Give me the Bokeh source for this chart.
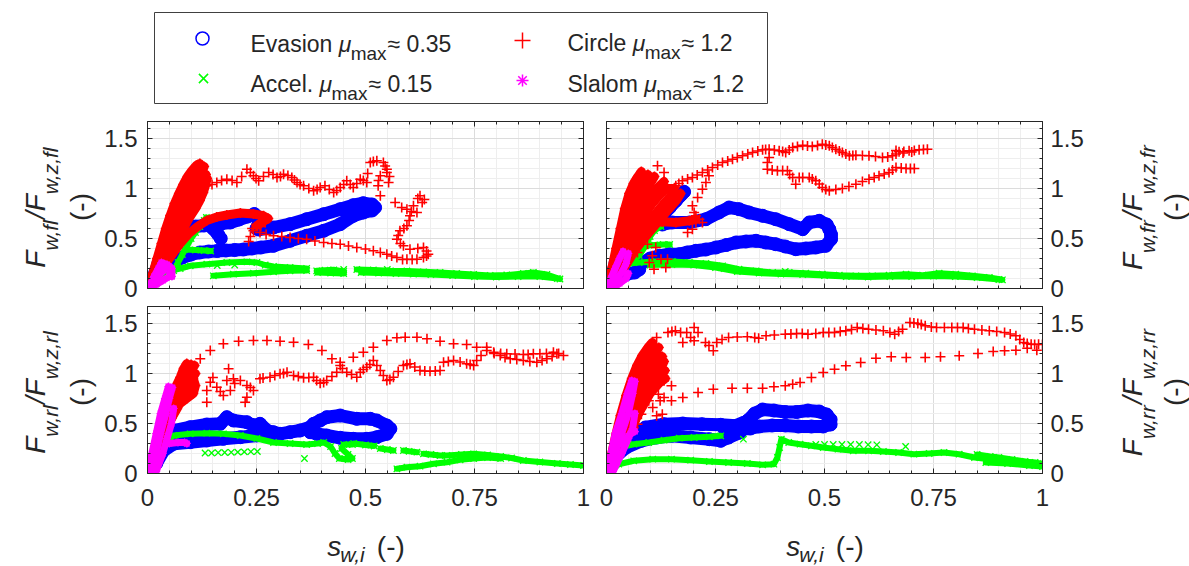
import math
from bokeh.plotting import figure
from bokeh.layouts import row, column
from bokeh.models import Range1d, FixedTicker, LinearAxis, Grid, CustomJSTickFormatter
from bokeh.core.properties import value
from bokeh.embed import file_html
from bokeh.resources import INLINE

# ---------------------------------------------------------------- data
x_major_ticks = [0, 0.25, 0.5, 0.75, 1]
x_minor_ticks = [0.05, 0.1, 0.15, 0.2, 0.3, 0.35, 0.4, 0.45, 0.55, 0.6, 0.65, 0.7, 0.8, 0.85, 0.9, 0.95]
y_major_ticks = [0, 0.5, 1, 1.5]
y_minor_ticks = [0.1, 0.2, 0.3, 0.4, 0.6, 0.7, 0.8, 0.9, 1.1, 1.2, 1.3, 1.4, 1.6]
series_names = ["Evasion", "Accel.", "Circle", "Slalom"]
series_mu = ["0.35", "0.15", "1.2", "1.2"]
wheels = ["fl", "fr", "rl", "rr"]

# ---- front left
tl_evasion_bands = [
    [(0.005, 0.02), (0.015, 0.08), (0.03, 0.15), (0.045, 0.22), (0.06, 0.27), (0.08, 0.31), (0.1, 0.34), (0.12, 0.36),
     (0.14, 0.37), (0.16, 0.375), (0.18, 0.38), (0.2, 0.385), (0.22, 0.39), (0.24, 0.40), (0.26, 0.41), (0.289, 0.427),
     (0.327, 0.477), (0.365, 0.527), (0.404, 0.577), (0.442, 0.643), (0.472, 0.727), (0.495, 0.76), (0.515, 0.78),
     (0.522, 0.81), (0.515, 0.84), (0.495, 0.853), (0.472, 0.833), (0.442, 0.793), (0.404, 0.743), (0.365, 0.693),
     (0.327, 0.643), (0.289, 0.61), (0.255, 0.59)],
    [(0.01, 0.08), (0.025, 0.25), (0.04, 0.4), (0.055, 0.5), (0.07, 0.56), (0.09, 0.6), (0.11, 0.62), (0.13, 0.63),
     (0.15, 0.64), (0.17, 0.65), (0.19, 0.66), (0.21, 0.69), (0.23, 0.72), (0.245, 0.745), (0.255, 0.71), (0.255, 0.65),
     (0.25, 0.6)],
    [(0.15, 0.6), (0.162, 0.54), (0.168, 0.5)],
]
tl_evasion_pts = []
tl_accel_bands = [
    [(0.02, 0.05), (0.04, 0.12), (0.06, 0.18), (0.07, 0.26), (0.08, 0.34), (0.09, 0.42), (0.1, 0.5), (0.11, 0.56),
     (0.12, 0.62), (0.13, 0.68), (0.135, 0.71)],
    [(0.085, 0.39), (0.11, 0.385), (0.13, 0.38), (0.145, 0.375)],
    [(0.03, 0.15), (0.052, 0.177), (0.075, 0.2), (0.098, 0.227), (0.136, 0.243), (0.182, 0.26), (0.228, 0.267),
     (0.251, 0.26), (0.27, 0.235), (0.289, 0.22), (0.327, 0.21), (0.365, 0.2)],
    [(0.151, 0.127), (0.197, 0.143), (0.243, 0.153), (0.289, 0.167), (0.327, 0.177), (0.365, 0.18)],
    [(0.388, 0.177), (0.407, 0.183), (0.427, 0.187), (0.45, 0.17)],
    [(0.48, 0.19), (0.518, 0.185), (0.557, 0.177), (0.595, 0.175), (0.633, 0.167), (0.671, 0.16), (0.709, 0.15),
     (0.748, 0.14), (0.786, 0.13), (0.824, 0.135), (0.862, 0.15), (0.885, 0.16), (0.916, 0.14), (0.946, 0.095)],
    [(0.39, 0.16), (0.42, 0.155), (0.45, 0.15)],
    [(0.49, 0.16), (0.53, 0.155), (0.57, 0.15), (0.61, 0.145), (0.65, 0.14), (0.7, 0.13), (0.75, 0.12), (0.8, 0.115),
     (0.85, 0.12), (0.9, 0.12), (0.94, 0.1)],
]
tl_accel_pts = [(0.16, 0.23), (0.2, 0.235), (0.45, 0.19), (0.55, 0.19)]
tl_circle_bands = [
    [(0.003, 0.03), (0.012, 0.15), (0.022, 0.3), (0.032, 0.45), (0.042, 0.6), (0.052, 0.73), (0.062, 0.85),
     (0.072, 0.95), (0.082, 1.04), (0.092, 1.12), (0.102, 1.18), (0.112, 1.23), (0.12, 1.25)],
    [(0.009, 0.06), (0.02, 0.2), (0.032, 0.35), (0.045, 0.5), (0.057, 0.64), (0.07, 0.78), (0.082, 0.9),
     (0.093, 1.0), (0.104, 1.08), (0.114, 1.15), (0.124, 1.2)],
    [(0.015, 0.1), (0.028, 0.25), (0.042, 0.4), (0.056, 0.55), (0.07, 0.7), (0.085, 0.83), (0.097, 0.94),
     (0.108, 1.03), (0.118, 1.1), (0.126, 1.17), (0.13, 1.22)],
    [(0.022, 0.14), (0.038, 0.29), (0.054, 0.43), (0.068, 0.56), (0.083, 0.68), (0.098, 0.8), (0.11, 0.9),
     (0.12, 0.99), (0.128, 1.06), (0.134, 1.14)],
    [(0.03, 0.18), (0.048, 0.33), (0.065, 0.46), (0.08, 0.58), (0.095, 0.7), (0.11, 0.8), (0.12, 0.88), (0.128, 0.96),
     (0.133, 1.03), (0.137, 1.1)],
    [(0.035, 0.2), (0.055, 0.33), (0.075, 0.45), (0.095, 0.55), (0.115, 0.62), (0.136, 0.68), (0.159, 0.715),
     (0.182, 0.735), (0.213, 0.755), (0.243, 0.745), (0.266, 0.727), (0.277, 0.7), (0.262, 0.66), (0.251, 0.63)],
]
tl_circle_pts = [
    (0.136, 1.027), (0.148, 1.04), (0.159, 1.06), (0.17, 1.08), (0.182, 1.093), (0.194, 1.08), (0.205, 1.06),
    (0.216, 1.12), (0.228, 1.193), (0.236, 1.16), (0.243, 1.127), (0.249, 1.1), (0.255, 1.077), (0.266, 1.12),
    (0.278, 1.16), (0.288, 1.14), (0.297, 1.11), (0.305, 1.12), (0.312, 1.143), (0.322, 1.13), (0.331, 1.11),
    (0.337, 1.085), (0.343, 1.06), (0.35, 1.04), (0.358, 1.027), (0.37, 1.0), (0.381, 0.977), (0.389, 0.99),
    (0.396, 1.01), (0.407, 1.027), (0.417, 0.99), (0.427, 0.96), (0.434, 0.98), (0.442, 1.01), (0.45, 1.04),
    (0.457, 1.077), (0.465, 1.04), (0.472, 1.01), (0.48, 1.05), (0.488, 1.093), (0.495, 1.08), (0.503, 1.06),
    (0.505, 1.15), (0.511, 1.26), (0.518, 1.27), (0.526, 1.277), (0.541, 1.26), (0.545, 1.225), (0.549, 1.193),
    (0.534, 1.127), (0.53, 1.08), (0.529, 1.027), (0.534, 0.927), (0.549, 1.16), (0.555, 1.12), (0.553, 1.06),
    (0.568, 0.86), (0.583, 0.81), (0.595, 0.793), (0.618, 0.76), (0.625, 0.927), (0.62, 0.9), (0.635, 0.89),
    (0.63, 0.86), (0.61, 0.827), (0.605, 0.77), (0.602, 0.727), (0.6, 0.68), (0.595, 0.627), (0.588, 0.6),
    (0.579, 0.577), (0.575, 0.53), (0.572, 0.493), (0.58, 0.45), (0.587, 0.427), (0.602, 0.393), (0.62, 0.40),
    (0.633, 0.41), (0.64, 0.375), (0.644, 0.343), (0.64, 0.325), (0.633, 0.31), (0.618, 0.293), (0.607, 0.29),
    (0.595, 0.293), (0.585, 0.29), (0.572, 0.31), (0.56, 0.325), (0.549, 0.343), (0.534, 0.36), (0.518, 0.377),
    (0.5, 0.395), (0.48, 0.41), (0.461, 0.425), (0.442, 0.443), (0.423, 0.45), (0.404, 0.46), (0.384, 0.475),
    (0.365, 0.493), (0.346, 0.5), (0.327, 0.51), (0.308, 0.52), (0.289, 0.527), (0.272, 0.54), (0.258, 0.56),
    (0.243, 0.577), (0.232, 0.47), (0.236, 0.52), (0.24, 0.6), (0.26, 0.62), (0.27, 0.66)]
tl_slalom_bands = [
    [(0.0, 0.0), (0.01, 0.05), (0.02, 0.1), (0.03, 0.15), (0.04, 0.19), (0.05, 0.22)],
    [(0.005, 0.0), (0.02, 0.04), (0.035, 0.08), (0.05, 0.12), (0.052, 0.18)],
    [(0.005, 0.03), (0.015, 0.12), (0.025, 0.2), (0.032, 0.26), (0.045, 0.24), (0.056, 0.2), (0.056, 0.12)],
]
tl_slalom_pts = []

# ---- front right
tr_evasion_bands = [
    [(0.0, 0.0), (0.01, 0.05), (0.025, 0.1), (0.045, 0.14), (0.065, 0.16), (0.075, 0.19)],
    [(0.01, 0.1), (0.021, 0.26), (0.035, 0.33), (0.052, 0.393), (0.07, 0.47), (0.09, 0.56), (0.11, 0.645),
     (0.128, 0.727), (0.145, 0.81), (0.159, 0.877), (0.17, 0.93), (0.178, 0.967)],
    [(0.128, 0.64), (0.151, 0.66), (0.19, 0.66), (0.228, 0.693), (0.258, 0.76), (0.281, 0.81), (0.304, 0.793),
     (0.327, 0.76), (0.358, 0.727), (0.388, 0.693), (0.419, 0.643), (0.45, 0.593), (0.465, 0.66), (0.488, 0.677),
     (0.505, 0.64), (0.511, 0.593), (0.515, 0.54), (0.515, 0.493), (0.503, 0.427), (0.48, 0.41), (0.457, 0.4),
     (0.434, 0.393), (0.41, 0.42), (0.388, 0.443), (0.365, 0.46), (0.343, 0.477), (0.32, 0.47), (0.297, 0.46),
     (0.275, 0.435), (0.251, 0.41), (0.228, 0.39), (0.205, 0.377), (0.185, 0.36), (0.167, 0.343), (0.144, 0.343),
     (0.121, 0.327), (0.1, 0.3), (0.08, 0.25)],
]
tr_evasion_pts = []
tr_accel_bands = [
    [(0.006, 0.127), (0.02, 0.2), (0.037, 0.243), (0.075, 0.26), (0.113, 0.27), (0.151, 0.27), (0.19, 0.26),
     (0.228, 0.25), (0.266, 0.227), (0.304, 0.193), (0.343, 0.177), (0.381, 0.16), (0.419, 0.16), (0.457, 0.153),
     (0.495, 0.143), (0.534, 0.133), (0.572, 0.127), (0.61, 0.127), (0.648, 0.133), (0.687, 0.143), (0.725, 0.133),
     (0.763, 0.153), (0.801, 0.143), (0.839, 0.127), (0.878, 0.11), (0.908, 0.087)],
    [(0.1, 0.235), (0.15, 0.24), (0.2, 0.235), (0.25, 0.21), (0.3, 0.17), (0.35, 0.155), (0.4, 0.145), (0.45, 0.14),
     (0.5, 0.13), (0.55, 0.12), (0.6, 0.115), (0.65, 0.12), (0.7, 0.12), (0.75, 0.125), (0.8, 0.12), (0.85, 0.11),
     (0.9, 0.09)],
    [(0.04, 0.2), (0.06, 0.28), (0.075, 0.33), (0.09, 0.43), (0.1, 0.52), (0.11, 0.58), (0.125, 0.62)],
    [(0.09, 0.43), (0.11, 0.435), (0.13, 0.44), (0.145, 0.44)],
]
tr_accel_pts = [(0.27, 0.2), (0.41, 0.17)]
tr_circle_bands = [
    [(0.003, 0.03), (0.012, 0.2), (0.022, 0.4), (0.032, 0.6), (0.042, 0.8), (0.052, 0.95), (0.062, 1.05),
     (0.072, 1.12), (0.08, 1.17)],
    [(0.008, 0.05), (0.018, 0.22), (0.031, 0.42), (0.043, 0.62), (0.056, 0.8), (0.068, 0.95), (0.081, 1.06),
     (0.095, 1.14)],
    [(0.012, 0.08), (0.025, 0.25), (0.04, 0.45), (0.055, 0.65), (0.07, 0.82), (0.085, 0.95), (0.1, 1.05), (0.11, 1.12)],
    [(0.018, 0.11), (0.035, 0.3), (0.052, 0.5), (0.07, 0.68), (0.088, 0.83), (0.105, 0.95), (0.12, 1.02),
     (0.132, 1.07)],
    [(0.025, 0.15), (0.045, 0.35), (0.065, 0.55), (0.085, 0.72), (0.105, 0.85), (0.125, 0.95), (0.14, 1.0),
     (0.155, 1.0)],
    [(0.032, 0.17), (0.055, 0.36), (0.078, 0.53), (0.1, 0.68), (0.122, 0.8), (0.142, 0.9), (0.158, 0.95)],
    [(0.04, 0.2), (0.065, 0.38), (0.09, 0.52), (0.115, 0.65), (0.14, 0.78), (0.16, 0.88), (0.17, 0.95)],
    [(0.07, 0.6), (0.09, 0.66), (0.128, 0.667), (0.159, 0.66), (0.19, 0.677), (0.205, 0.69)],
]
tr_circle_pts = [
    (0.159, 1.027), (0.166, 1.05), (0.174, 1.077), (0.186, 1.095), (0.197, 1.11), (0.208, 1.135), (0.22, 1.16),
    (0.232, 1.185), (0.243, 1.21), (0.255, 1.235), (0.266, 1.26), (0.278, 1.275), (0.289, 1.293), (0.3, 1.31),
    (0.312, 1.327), (0.324, 1.345), (0.335, 1.36), (0.347, 1.375), (0.358, 1.387), (0.365, 1.39), (0.373, 1.393),
    (0.385, 1.385), (0.396, 1.377), (0.404, 1.37), (0.411, 1.36), (0.419, 1.385), (0.427, 1.41), (0.438, 1.42),
    (0.45, 1.433), (0.461, 1.425), (0.472, 1.42), (0.484, 1.43), (0.495, 1.443), (0.503, 1.435), (0.511, 1.427),
    (0.518, 1.41), (0.526, 1.393), (0.534, 1.375), (0.541, 1.36), (0.549, 1.345), (0.557, 1.327), (0.565, 1.33),
    (0.572, 1.333), (0.587, 1.33), (0.602, 1.327), (0.617, 1.32), (0.633, 1.31), (0.645, 1.315), (0.656, 1.327),
    (0.664, 1.345), (0.671, 1.367), (0.682, 1.37), (0.694, 1.377), (0.706, 1.38), (0.717, 1.387), (0.727, 1.39),
    (0.736, 1.393), (0.664, 1.38), (0.68, 1.355), (0.7, 1.365),
    (0.369, 1.193), (0.38, 1.185), (0.392, 1.177), (0.404, 1.18), (0.415, 1.177), (0.42, 1.14), (0.427, 1.11),
    (0.434, 1.043), (0.442, 1.11), (0.45, 1.11), (0.465, 1.11), (0.472, 1.095), (0.48, 1.077), (0.488, 1.045),
    (0.495, 1.01), (0.503, 0.99), (0.511, 0.977), (0.526, 0.99), (0.541, 1.0), (0.556, 1.02), (0.572, 1.043),
    (0.587, 1.07), (0.602, 1.093), (0.614, 1.11), (0.625, 1.127), (0.637, 1.145), (0.648, 1.16), (0.656, 1.185),
    (0.664, 1.21), (0.676, 1.205), (0.687, 1.2), (0.697, 1.2), (0.706, 1.2), (0.373, 1.31), (0.369, 1.26),
    (0.235, 1.127), (0.228, 1.06), (0.22, 0.993), (0.209, 0.91), (0.197, 0.827), (0.201, 0.76), (0.205, 0.727),
    (0.213, 0.693), (0.22, 0.66), (0.205, 0.66), (0.197, 0.593), (0.186, 0.56),
    (0.071, 0.36), (0.094, 0.443), (0.113, 0.41), (0.105, 0.327), (0.098, 0.26), (0.125, 0.293), (0.14, 0.293),
    (0.109, 0.193), (0.136, 0.21), (0.117, 1.227), (0.132, 1.16)]
tr_slalom_bands = [
    [(0.0, 0.0), (0.01, 0.1), (0.02, 0.2), (0.03, 0.3), (0.038, 0.37)],
    [(0.005, 0.0), (0.02, 0.08), (0.035, 0.16), (0.045, 0.25), (0.05, 0.35)],
    [(0.01, 0.0), (0.03, 0.05), (0.045, 0.1), (0.05, 0.15)],
]
tr_slalom_pts = []

# ---- rear left
bl_evasion_bands = [
    [(0.005, 0.03), (0.015, 0.15), (0.03, 0.3), (0.045, 0.38), (0.06, 0.43), (0.098, 0.463), (0.136, 0.49),
     (0.167, 0.497), (0.182, 0.563), (0.197, 0.53), (0.228, 0.513), (0.243, 0.48), (0.258, 0.497), (0.274, 0.43),
     (0.289, 0.413), (0.304, 0.397), (0.327, 0.413), (0.35, 0.43), (0.373, 0.463), (0.381, 0.497), (0.396, 0.53),
     (0.411, 0.563), (0.442, 0.58), (0.48, 0.547), (0.511, 0.547), (0.526, 0.53), (0.549, 0.48), (0.557, 0.447),
     (0.549, 0.397), (0.526, 0.363), (0.503, 0.347), (0.472, 0.347), (0.442, 0.357), (0.411, 0.38), (0.388, 0.397),
     (0.373, 0.413)],
    [(0.02, 0.1), (0.037, 0.23), (0.06, 0.297), (0.098, 0.313), (0.136, 0.33), (0.174, 0.347), (0.213, 0.363),
     (0.251, 0.38), (0.289, 0.397)],
]
bl_evasion_pts = []
bl_accel_bands = [
    [(0.005, 0.02), (0.015, 0.12), (0.025, 0.22), (0.035, 0.3), (0.045, 0.36)],
    [(0.029, 0.23), (0.045, 0.33), (0.06, 0.38), (0.098, 0.397), (0.136, 0.403), (0.174, 0.397), (0.213, 0.38),
     (0.251, 0.35), (0.289, 0.31), (0.327, 0.30), (0.365, 0.29), (0.39, 0.3), (0.404, 0.31), (0.42, 0.27),
     (0.43, 0.2), (0.44, 0.15), (0.46, 0.14), (0.47, 0.15), (0.46, 0.19), (0.445, 0.25), (0.45, 0.29), (0.47, 0.29)],
    [(0.473, 0.30), (0.5, 0.285), (0.52, 0.275)],
    [(0.534, 0.25), (0.55, 0.24), (0.564, 0.23)],
    [(0.587, 0.23), (0.6, 0.222), (0.618, 0.213)],
    [(0.633, 0.197), (0.65, 0.19), (0.671, 0.18), (0.687, 0.18), (0.72, 0.19), (0.748, 0.197), (0.78, 0.185),
     (0.81, 0.17), (0.835, 0.155), (0.862, 0.13), (0.9, 0.115), (0.94, 0.1), (0.97, 0.09), (1.0, 0.08)],
    [(0.572, 0.047), (0.595, 0.063), (0.625, 0.073), (0.656, 0.097), (0.687, 0.113), (0.717, 0.137), (0.748, 0.15),
     (0.78, 0.16), (0.81, 0.15)],
]
bl_accel_pts = [(0.132, 0.205), (0.147, 0.205), (0.162, 0.208), (0.177, 0.21), (0.192, 0.212), (0.207, 0.214),
                (0.222, 0.216), (0.237, 0.218), (0.252, 0.22), (0.36, 0.15)]
bl_circle_bands = [
    [(0.005, 0.05), (0.015, 0.2), (0.025, 0.35), (0.035, 0.5), (0.045, 0.65), (0.055, 0.77), (0.065, 0.87),
     (0.075, 0.96), (0.083, 1.05), (0.09, 1.1)],
    [(0.018, 0.18), (0.03, 0.33), (0.041, 0.48), (0.052, 0.62), (0.063, 0.75), (0.073, 0.86), (0.083, 0.96),
     (0.093, 1.04), (0.1, 1.09)],
    [(0.03, 0.3), (0.045, 0.45), (0.06, 0.6), (0.07, 0.72), (0.08, 0.85), (0.09, 0.95), (0.1, 1.03), (0.108, 1.08)],
    [(0.055, 0.55), (0.068, 0.65), (0.08, 0.76), (0.092, 0.86), (0.103, 0.96), (0.11, 1.0)],
    [(0.06, 0.65), (0.075, 0.7), (0.09, 0.75), (0.105, 0.8), (0.11, 0.88), (0.105, 0.95), (0.095, 0.9), (0.085, 0.8)],
]
bl_circle_pts = [
    (0.121, 1.147), (0.144, 1.23), (0.174, 1.297), (0.209, 1.323), (0.243, 1.33), (0.274, 1.33), (0.304, 1.323),
    (0.335, 1.313), (0.369, 1.29), (0.4, 1.23), (0.423, 1.147), (0.442, 1.113), (0.472, 1.163), (0.495, 1.213),
    (0.518, 1.263), (0.549, 1.33), (0.572, 1.357), (0.591, 1.363), (0.618, 1.363), (0.641, 1.347), (0.671, 1.323),
    (0.702, 1.297), (0.732, 1.29), (0.755, 1.263), (0.778, 1.263), (0.794, 1.213), (0.81, 1.2), (0.824, 1.197),
    (0.843, 1.195), (0.862, 1.19), (0.873, 1.19), (0.885, 1.197), (0.9, 1.197), (0.915, 1.2), (0.931, 1.213),
    (0.943, 1.2), (0.954, 1.18),
    (0.136, 0.713), (0.136, 0.83), (0.144, 0.913), (0.15, 0.96), (0.159, 0.863), (0.167, 0.82), (0.174, 0.78),
    (0.19, 0.83), (0.182, 0.93), (0.186, 1.047), (0.197, 0.947), (0.2, 0.9), (0.213, 0.93), (0.228, 0.88),
    (0.236, 0.86), (0.243, 0.83), (0.228, 0.763), (0.224, 0.713), (0.258, 0.947), (0.265, 0.955), (0.281, 0.963),
    (0.292, 0.98), (0.304, 0.997), (0.312, 1.0), (0.32, 1.013), (0.335, 0.98), (0.346, 0.97), (0.358, 0.957),
    (0.37, 0.96), (0.381, 0.963), (0.388, 0.93), (0.396, 0.903), (0.404, 0.91), (0.411, 0.93), (0.423, 0.97),
    (0.434, 1.013), (0.442, 1.08), (0.447, 1.05), (0.457, 1.013), (0.468, 0.99), (0.48, 0.963), (0.488, 1.013),
    (0.495, 1.04), (0.503, 1.063), (0.51, 1.09), (0.518, 1.13), (0.526, 1.08), (0.534, 1.03), (0.541, 0.98),
    (0.549, 0.93), (0.556, 0.94), (0.564, 0.963), (0.575, 1.02), (0.587, 1.08), (0.595, 1.09), (0.602, 1.097),
    (0.613, 1.065), (0.625, 1.03), (0.636, 1.025), (0.648, 1.023), (0.66, 1.025), (0.671, 1.03), (0.679, 1.113),
    (0.69, 1.12), (0.702, 1.13), (0.717, 1.115), (0.732, 1.097), (0.74, 1.09), (0.748, 1.08), (0.755, 1.13),
    (0.765, 1.18), (0.778, 1.23), (0.795, 1.2), (0.809, 1.18), (0.82, 1.16), (0.832, 1.147), (0.847, 1.14),
    (0.862, 1.13), (0.877, 1.12), (0.893, 1.113), (0.905, 1.13), (0.916, 1.147), (0.928, 1.17), (0.939, 1.197)]
bl_slalom_bands = [
    [(0.0, 0.0), (0.01, 0.2), (0.02, 0.4), (0.03, 0.6), (0.04, 0.75), (0.048, 0.87)],
    [(0.008, 0.0), (0.02, 0.2), (0.03, 0.4), (0.042, 0.6), (0.05, 0.75), (0.057, 0.86)],
    [(0.02, 0.02), (0.035, 0.2), (0.045, 0.35), (0.055, 0.5), (0.06, 0.65)],
    [(0.05, 0.3), (0.07, 0.31), (0.085, 0.31), (0.09, 0.3)],
]
bl_slalom_pts = []

# ---- rear right
br_evasion_bands = [
    [(0.002, 0.027), (0.019, 0.16), (0.045, 0.26), (0.08, 0.327), (0.115, 0.36), (0.149, 0.377), (0.193, 0.36),
     (0.236, 0.343), (0.262, 0.327), (0.28, 0.36), (0.306, 0.41), (0.306, 0.443), (0.271, 0.443)],
    [(0.02, 0.2), (0.045, 0.327), (0.0625, 0.393), (0.089, 0.46), (0.132, 0.493), (0.175, 0.5), (0.219, 0.493),
     (0.262, 0.487), (0.297, 0.477), (0.323, 0.527), (0.34, 0.6), (0.358, 0.64), (0.384, 0.63), (0.41, 0.615),
     (0.436, 0.615), (0.462, 0.63), (0.488, 0.62), (0.505, 0.59), (0.514, 0.54), (0.514, 0.49), (0.497, 0.47),
     (0.47, 0.47), (0.44, 0.47), (0.41, 0.48), (0.38, 0.48), (0.35, 0.47), (0.33, 0.45), (0.306, 0.443)],
]
br_evasion_pts = []
br_accel_bands = [
    [(0.01, 0.027), (0.028, 0.093), (0.0625, 0.127), (0.106, 0.143), (0.149, 0.143), (0.193, 0.133), (0.236, 0.12),
     (0.28, 0.11), (0.323, 0.1), (0.358, 0.087), (0.384, 0.093), (0.392, 0.16), (0.397, 0.26), (0.401, 0.343),
     (0.418, 0.31), (0.444, 0.293), (0.47, 0.277), (0.497, 0.26), (0.531, 0.243), (0.566, 0.227), (0.601, 0.227),
     (0.635, 0.22), (0.67, 0.21), (0.705, 0.193), (0.74, 0.2), (0.774, 0.21), (0.809, 0.193), (0.844, 0.16),
     (0.878, 0.143), (0.913, 0.133), (0.948, 0.12), (0.983, 0.11), (1.0, 0.093)],
    [(0.85, 0.19), (0.88, 0.17), (0.9, 0.16), (0.93, 0.14), (0.96, 0.12), (0.99, 0.1)],
    [(0.87, 0.11), (0.92, 0.1), (0.97, 0.08), (1.0, 0.07)],
    [(0.01, 0.1), (0.028, 0.26), (0.0625, 0.293), (0.097, 0.31), (0.132, 0.333), (0.167, 0.353), (0.201, 0.36),
     (0.236, 0.367), (0.262, 0.377)],
]
br_accel_pts = [(0.48, 0.29), (0.5, 0.29), (0.52, 0.29), (0.54, 0.29), (0.56, 0.29), (0.58, 0.29), (0.6, 0.288),
                (0.62, 0.287), (0.686, 0.27), (0.314, 0.343)]
br_circle_bands = [
    [(0.003, 0.03), (0.012, 0.2), (0.022, 0.4), (0.032, 0.58), (0.045, 0.78), (0.058, 0.95), (0.07, 1.08),
     (0.082, 1.18), (0.095, 1.26), (0.105, 1.31)],
    [(0.008, 0.05), (0.018, 0.22), (0.031, 0.42), (0.043, 0.61), (0.057, 0.8), (0.071, 0.97), (0.085, 1.1),
     (0.098, 1.2), (0.11, 1.27)],
    [(0.012, 0.08), (0.025, 0.25), (0.04, 0.45), (0.055, 0.65), (0.07, 0.85), (0.085, 1.0), (0.1, 1.12), (0.112, 1.2),
     (0.12, 1.26)],
    [(0.02, 0.14), (0.037, 0.32), (0.055, 0.52), (0.072, 0.72), (0.088, 0.88), (0.104, 1.01), (0.118, 1.1),
     (0.128, 1.17)],
    [(0.03, 0.2), (0.05, 0.4), (0.07, 0.6), (0.09, 0.8), (0.11, 0.95), (0.125, 1.05), (0.132, 1.12)],
    [(0.045, 0.35), (0.065, 0.52), (0.085, 0.7), (0.105, 0.85), (0.122, 0.96), (0.134, 1.03)],
    [(0.06, 0.5), (0.08, 0.65), (0.1, 0.8), (0.12, 0.9), (0.135, 0.95)],
]
br_circle_pts = [
    (0.115, 1.36), (0.141, 1.41), (0.15, 1.42), (0.158, 1.427), (0.17, 1.41), (0.184, 1.41), (0.201, 1.46),
    (0.21, 1.41), (0.193, 1.36), (0.175, 1.31), (0.201, 1.327), (0.227, 1.31), (0.235, 1.28), (0.245, 1.227),
    (0.253, 1.31), (0.265, 1.34), (0.28, 1.36), (0.3, 1.365), (0.323, 1.367), (0.34, 1.36), (0.349, 1.353),
    (0.366, 1.377), (0.385, 1.385), (0.41, 1.393), (0.423, 1.395), (0.436, 1.4), (0.449, 1.4), (0.462, 1.393),
    (0.48, 1.4), (0.497, 1.41), (0.51, 1.41), (0.523, 1.41), (0.536, 1.42), (0.549, 1.427), (0.562, 1.44),
    (0.575, 1.46), (0.588, 1.45), (0.601, 1.443), (0.618, 1.435), (0.635, 1.427), (0.65, 1.41), (0.661, 1.393),
    (0.67, 1.42), (0.679, 1.443), (0.696, 1.51), (0.705, 1.505), (0.714, 1.5), (0.722, 1.49), (0.731, 1.477),
    (0.745, 1.465), (0.757, 1.46), (0.775, 1.46), (0.792, 1.46), (0.805, 1.46), (0.818, 1.46), (0.83, 1.45),
    (0.844, 1.443), (0.861, 1.435), (0.878, 1.427), (0.895, 1.42), (0.913, 1.41), (0.926, 1.395), (0.939, 1.377),
    (0.948, 1.34), (0.957, 1.31), (0.965, 1.3), (0.974, 1.293), (0.982, 1.29), (0.991, 1.293), (1.0, 1.29),
    (0.149, 0.727), (0.175, 0.76), (0.21, 0.81), (0.245, 0.843), (0.288, 0.853), (0.323, 0.853), (0.358, 0.853),
    (0.384, 0.867), (0.41, 0.877), (0.427, 0.893), (0.444, 0.91), (0.47, 0.96), (0.497, 1.01), (0.523, 1.043),
    (0.549, 1.077), (0.583, 1.11), (0.618, 1.153), (0.653, 1.167), (0.6875, 1.16), (0.731, 1.16), (0.766, 1.167),
    (0.809, 1.177), (0.852, 1.2), (0.887, 1.22), (0.913, 1.227), (0.939, 1.233), (0.965, 1.253), (0.987, 1.233),
    (0.071, 0.493), (0.0625, 0.46), (0.08, 0.593), (0.106, 0.66), (0.115, 0.577), (0.097, 0.727), (0.119, 0.793),
    (0.132, 0.76), (0.084, 0.96), (0.106, 0.893), (0.132, 0.927), (0.149, 0.877), (0.097, 0.827), (0.123, 0.727),
    (0.128, 0.593)]
br_slalom_bands = [
    [(0.0, 0.0), (0.01, 0.2), (0.02, 0.4), (0.035, 0.6), (0.048, 0.8), (0.058, 0.93)],
    [(0.008, 0.0), (0.02, 0.2), (0.035, 0.4), (0.05, 0.6), (0.06, 0.8), (0.065, 0.92)],
    [(0.015, 0.02), (0.035, 0.2), (0.05, 0.35), (0.06, 0.45), (0.065, 0.6)],
    [(0.03, 0.3), (0.045, 0.35), (0.055, 0.4), (0.065, 0.42)],
]
br_slalom_pts = []

# ---------------------------------------------------------------- style
FONT = "Liberation Sans"
AX = "#262626"
BLUE, GREEN, RED, MAGENTA = "#0000ff", "#00ff00", "#ff0000", "#ff00ff"
MAIN, SUB, TICK = 28, 21, 24
STYLE = {
    "evasion": dict(color=BLUE, marker="circle", size=13, lw=1, band=13),
    "accel": dict(color=GREEN, marker="x", size=9, lw=1.3, band=6),
    "circle": dict(color=RED, marker="cross", size=10, lw=1.6, band=9),
    "slalom": dict(color=MAGENTA, marker="asterisk", size=8, lw=1.2, band=7),
}
CW = {'F': 0.611, 'w': 0.722, ',': 0.278, 'f': 0.278, 'l': 0.222, 'r': 0.333, 'z': 0.5, '/': 0.278, 's': 0.5,
      'i': 0.222, '(': 0.333, '-': 0.333, ')': 0.333, 'E': 0.667, 'v': 0.5, 'a': 0.556, 'o': 0.556, 'n': 0.556,
      'A': 0.667, 'c': 0.5, 'e': 0.556, '.': 0.278, 'C': 0.722, 'S': 0.667, 'm': 0.833, 'x': 0.5, ' ': 0.278}


def tw(s, size):
    return sum(CW.get(c, 0.556) for c in s) * size


def add_axis(p, side, ticker, labels, standoff):
    ax = LinearAxis(ticker=ticker)
    if labels:
        ax.formatter = CustomJSTickFormatter(code="return String(tick);")
        ax.major_label_text_font_size = f"{TICK}px"
        ax.major_label_standoff = standoff
    else:
        ax.formatter = CustomJSTickFormatter(code="return '';")
        ax.major_label_text_font_size = "0px"
        ax.major_label_standoff = 0
    ax.major_label_text_font = FONT
    ax.major_label_text_color = AX
    ax.axis_line_color = AX
    ax.major_tick_line_color = AX
    ax.minor_tick_line_color = AX
    ax.major_tick_in = 5
    ax.major_tick_out = 0
    ax.minor_tick_in = 3
    ax.minor_tick_out = 0
    p.add_layout(ax, side)


def draw_series(p, bands, pts, st):
    if bands:
        p.multi_line([[a for a, b in s] for s in bands], [[b for a, b in s] for s in bands],
                     line_color=st["color"], line_width=st["band"], line_join="round", line_cap="round")
    allp = [q for s in bands for q in s] + pts
    xs = [a for a, b in allp]
    ys = [b for a, b in allp]
    if st["marker"] == "circle":
        p.scatter(xs, ys, marker="circle", size=st["size"], line_color=st["color"], fill_color=st["color"],
                  line_width=st["lw"])
    else:
        p.scatter(xs, ys, marker=st["marker"], size=st["size"], line_color=st["color"], line_width=st["lw"])


def panel(width, height, bl, br, bt, bb, left_labels, bottom_labels, data):
    p = figure(width=width, height=height, x_range=Range1d(0, 1), y_range=Range1d(0, 1.67),
               x_axis_type=None, y_axis_type=None, toolbar_location=None, output_backend="svg",
               min_border_left=bl, min_border_right=br, min_border_top=bt, min_border_bottom=bb)
    p.outline_line_color = AX
    p.outline_line_width = 1
    p.background_fill_color = "white"
    p.border_fill_color = "white"
    xt = FixedTicker(ticks=x_major_ticks, minor_ticks=x_minor_ticks)
    yt = FixedTicker(ticks=y_major_ticks, minor_ticks=y_minor_ticks)
    p.add_layout(Grid(dimension=0, ticker=xt, grid_line_color="#dcdcdc", minor_grid_line_color="#eeeeee"))
    p.add_layout(Grid(dimension=1, ticker=yt, grid_line_color="#dcdcdc", minor_grid_line_color="#eeeeee"))
    add_axis(p, "below", xt, bottom_labels, 15)
    add_axis(p, "above", xt, False, 0)
    add_axis(p, "left", yt, left_labels, 10)
    add_axis(p, "right", yt, not left_labels, 8)
    for key in ["evasion", "accel", "circle", "slalom"]:
        bands, pts = data[key]
        draw_series(p, bands, pts, STYLE[key])
    return p


def blank(w, h):
    f = figure(width=w, height=h, x_range=Range1d(0, w), y_range=Range1d(0, h), x_axis_type=None,
               y_axis_type=None, toolbar_location=None, output_backend="svg", min_border=0)
    f.outline_line_color = None
    f.background_fill_color = "white"
    f.border_fill_color = "white"
    return f


def txt(f, x, y, s, size, italic=False, angle=0.0, align="left", baseline="alphabetic"):
    f.text(x=[x], y=[y], text=[s], angle=angle, text_font=value(FONT), text_font_size=value(f"{size}px"),
           text_font_style="italic" if italic else "normal", text_align=align, text_baseline=baseline,
           text_color=AX)


# ---------------------------------------------------------------- layout sizes (px)
L_W, R_W = 97, 94
tl = panel(498, 187, 50, 12, 5, 15, True, False, {
    "evasion": (tl_evasion_bands, tl_evasion_pts), "accel": (tl_accel_bands, tl_accel_pts),
    "circle": (tl_circle_bands, tl_circle_pts), "slalom": (tl_slalom_bands, tl_slalom_pts)})
tr = panel(500, 187, 11, 53, 5, 15, False, False, {
    "evasion": (tr_evasion_bands, tr_evasion_pts), "accel": (tr_accel_bands, tr_accel_pts),
    "circle": (tr_circle_bands, tr_circle_pts), "slalom": (tr_slalom_bands, tr_slalom_pts)})
bl = panel(498, 216, 50, 12, 3, 46, True, True, {
    "evasion": (bl_evasion_bands, bl_evasion_pts), "accel": (bl_accel_bands, bl_accel_pts),
    "circle": (bl_circle_bands, bl_circle_pts), "slalom": (bl_slalom_bands, bl_slalom_pts)})
br = panel(500, 216, 11, 53, 3, 46, False, True, {
    "evasion": (br_evasion_bands, br_evasion_pts), "accel": (br_accel_bands, br_accel_pts),
    "circle": (br_circle_bands, br_circle_pts), "slalom": (br_slalom_bands, br_slalom_pts)})

# ---------------------------------------------------------------- y labels
LAB_TOP, LAB_H = 116, 403
R_X0 = 1189 - R_W
lfig = blank(L_W, LAB_H)
rfig = blank(R_W, LAB_H)


def ylabel(f, x0, base_x, center_y, wheel):
    parts = [("F", MAIN, False), ("w," + wheel, SUB, True), ("/F", MAIN, False), ("w,z," + wheel, SUB, True)]
    total = sum(tw(t, s) for t, s, _ in parts)
    pos = center_y + total / 2
    for t, s, sub in parts:
        x = base_x + (15 if sub else 0) - x0
        txt(f, x, LAB_TOP + LAB_H - pos, t, s, italic=True, angle=math.pi / 2)
        pos -= tw(t, s)


row_centers = [206.5, 391.5]
ylabel(lfig, 0, 35, row_centers[0], wheels[0])
ylabel(rfig, R_X0, 1132, row_centers[0], wheels[1])
ylabel(lfig, 0, 35, row_centers[1], wheels[2])
ylabel(rfig, R_X0, 1132, row_centers[1], wheels[3])
for c in row_centers:
    txt(lfig, 80, LAB_TOP + LAB_H - c, "(-)", MAIN, angle=math.pi / 2, align="center")
    txt(rfig, 1174 - R_X0, LAB_TOP + LAB_H - c, "(-)", MAIN, angle=math.pi / 2, align="center")

# ---------------------------------------------------------------- x labels
B_TOP, B_H = 519, 47
bfig = blank(1189, B_H)
for cx in [365, 824]:
    total = tw("s", MAIN) + tw("w,i", SUB) + 11 + tw("(-)", MAIN)
    x1 = cx - total / 2 + 1
    txt(bfig, x1, B_TOP + B_H - 546, "s", MAIN, italic=True)
    x2 = x1 + tw("s", MAIN) - 1
    txt(bfig, x2, B_TOP + B_H - 554, "w,i", SUB, italic=True)
    x3 = x2 + tw("w,i", SUB) + 11
    txt(bfig, x3, B_TOP + B_H - 546, "(-)", MAIN)

# ---------------------------------------------------------------- legend
tfig = blank(1189, 116)
T_H = 116
tfig.quad(left=[154], right=[767], top=[T_H - 12], bottom=[T_H - 103], fill_color="white", line_color="#404040",
          line_width=1)
leg_marker_pos = [(202, 38), (203, 78), (522, 40), (522, 80)]
leg_markers = [("circle", BLUE, 13), ("x", GREEN, 13), ("cross", RED, 16), ("asterisk", MAGENTA, 12)]
for (mx, my), (mk, col, sz) in zip(leg_marker_pos, leg_markers):
    tfig.scatter([mx], [T_H - my], marker=mk, size=sz, line_color=col, fill_color=None, line_width=1.5)
LEG, LEGSUB = 23, 19
leg_text_pos = [(250, 43), (250, 83), (567, 42), (567, 83)]
for name, mu, (nx, by) in zip(series_names, series_mu, leg_text_pos):
    txt(tfig, nx, T_H - by, name, LEG)
    mux = nx + tw(name + " ", LEG)
    txt(tfig, mux, T_H - by, "\u03bc", LEG, italic=True)
    maxx = mux + 12
    txt(tfig, maxx, T_H - by - 10, "max", LEGSUB)
    txt(tfig, maxx + tw("max", LEGSUB) + 1, T_H - by, "\u2248 " + mu, LEG)

layout = column(tfig, row(lfig, column(row(tl, tr), row(bl, br)), rfig), bfig)
open("out.html", "w").write(file_html(layout, INLINE))
